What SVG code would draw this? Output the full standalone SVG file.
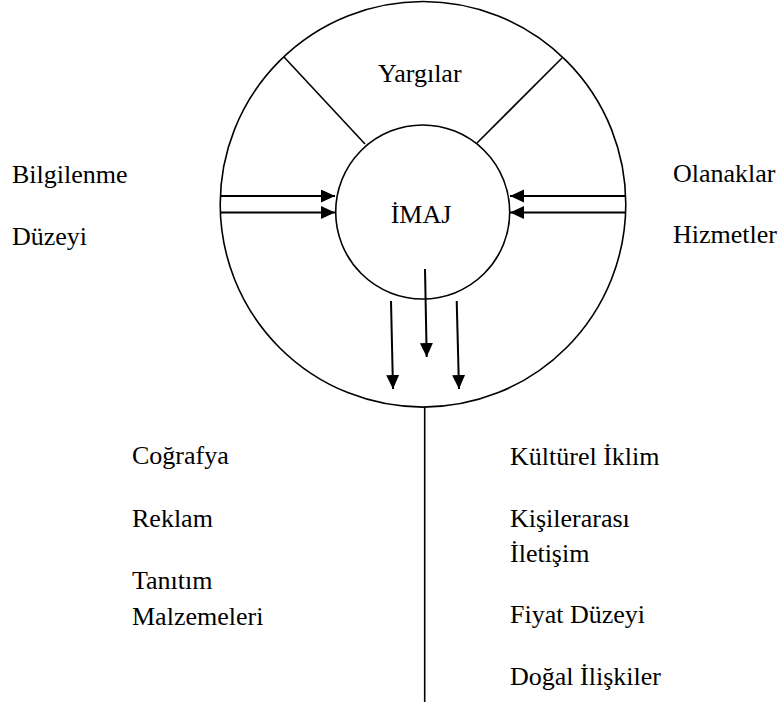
<svg xmlns="http://www.w3.org/2000/svg" width="779" height="715" viewBox="0 0 779 715">
  <style>
    .t { font-family: 'Liberation Serif', 'Times New Roman', serif; font-size: 26px; fill: #000; }
    .c { fill: none; stroke: #000; stroke-width: 1.6; }
    .l { stroke: #000; stroke-width: 1.6; fill: none; }
    .a { stroke: #000; stroke-width: 2; fill: none; marker-end: url(#ah); }
  </style>
  <defs>
    <marker id="ah" markerUnits="userSpaceOnUse" markerWidth="15" markerHeight="14" refX="14" refY="6.5" orient="auto">
      <path d="M0,0 L14,6.5 L0,13 z" fill="#000"/>
    </marker>
  </defs>
  <rect width="779" height="715" fill="#fff"/>
  <g id="outer">
    <circle class="c" cx="423" cy="204.3" r="202.8"/>
    <text class="t" x="378" y="82">Yargılar</text>
  </g>
  <g id="imaj">
    <circle class="c" cx="422.7" cy="212" r="87"/>
    <text class="t" x="421" y="222.5" text-anchor="middle">İMAJ</text>
  </g>
  <g id="left-labels">
    <text class="t" x="12" y="183">Bilgilenme</text>
    <text class="t" x="12" y="245">Düzeyi</text>
  </g>
  <g id="right-labels">
    <text class="t" x="673" y="182">Olanaklar</text>
    <text class="t" x="673" y="242.5">Hizmetler</text>
  </g>
  <g id="bottom-left-labels">
    <text class="t" x="132" y="464">Coğrafya</text>
    <text class="t" x="132" y="527">Reklam</text>
    <text class="t" x="132" y="589">Tanıtım</text>
    <text class="t" x="132" y="625">Malzemeleri</text>
  </g>
  <g id="bottom-right-labels">
    <text class="t" x="510" y="465">Kültürel İklim</text>
    <text class="t" x="510" y="527">Kişilerarası</text>
    <text class="t" x="510" y="562">İletişim</text>
    <text class="t" x="510" y="623">Fiyat Düzeyi</text>
    <text class="t" x="510" y="685">Doğal İlişkiler</text>
  </g>
  <g id="connectors">
    <line class="l" x1="284" y1="57" x2="365" y2="144"/>
    <line class="l" x1="562" y1="58" x2="477" y2="143"/>
    <line class="a" x1="220.5" y1="196" x2="335" y2="196"/>
    <line class="a" x1="220.5" y1="212.5" x2="335" y2="212.5"/>
    <line class="a" x1="625.5" y1="196" x2="510" y2="196"/>
    <line class="a" x1="625.5" y1="212.5" x2="510" y2="212.5"/>
    <line class="a" x1="425" y1="269" x2="426.7" y2="357"/>
    <line class="a" x1="391" y1="301" x2="393" y2="389"/>
    <line class="a" x1="456.7" y1="301" x2="459" y2="389"/>
    <line class="l" x1="424.7" y1="407" x2="424.7" y2="702"/>
  </g>
</svg>
